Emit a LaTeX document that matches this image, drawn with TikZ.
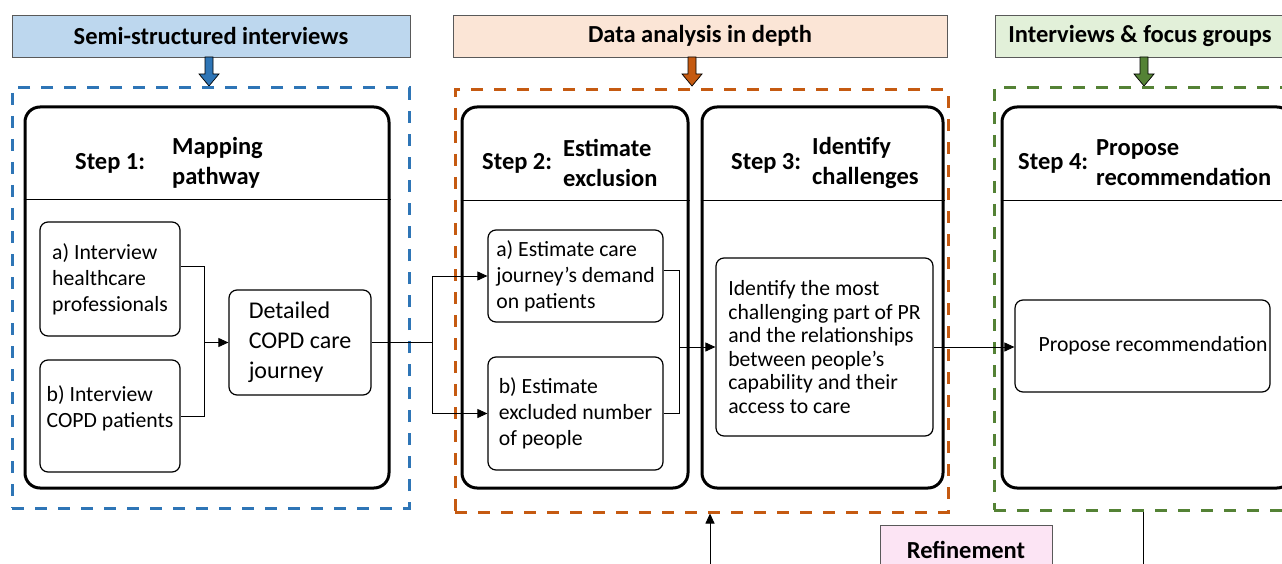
\documentclass[tikz,border=0pt]{standalone}
\usepackage{fontspec}
\setmainfont{Carlito}
\usetikzlibrary{arrows.meta}
\definecolor{blu}{RGB}{46,117,182}
\definecolor{bluhdr}{RGB}{189,215,238}
\definecolor{org}{RGB}{197,90,17}
\definecolor{orghdr}{RGB}{251,229,214}
\definecolor{grn}{RGB}{84,130,53}
\definecolor{grnhdr}{RGB}{226,240,217}
\definecolor{pnk}{RGB}{252,228,244}
\tikzset{hdr/.style={draw=black!65, line width=0.8pt, minimum height=42pt, font=\bfseries\fontsize{24.5}{30}\selectfont},
         frm/.style={line width=3pt, dash pattern=on 12pt off 11pt},
         stp/.style={draw, line width=3pt, rounded corners=15pt},
         box/.style={draw, line width=1.2pt, rounded corners=8pt, align=left, inner sep=0pt, font=\fontsize{21.7}{26}\selectfont},
         ttl/.style={anchor=west, align=left, inner sep=0pt, font=\bfseries\fontsize{24.5}{30}\selectfont},
         lnk/.style={line width=0.9pt, -{Triangle[length=10pt,width=9pt]}}}

\begin{document}
\begin{tikzpicture}[x=1pt,y=-1pt]
   \fill[white] (0,0) rectangle (1282,564);
   \useasboundingbox (0,0) rectangle (1282,564);
   % headers
   \node[hdr, fill=bluhdr, minimum width=398pt] (h1) at ( 211,36) {Semi-structured interviews};
   \node[hdr, fill=orghdr, minimum width=494pt] (h2) at ( 700,36) {Data analysis in depth};
   \node[hdr, fill=grnhdr, minimum width=290pt] (h3) at (1140,36) {Interviews \& focus groups};
   \foreach \x/\c in {209/blu,692/org,1144/grn}
     \draw[fill=\c, line width=0.7pt] (\x-4,57) -- (\x+4,57) -- (\x+4,74) -- (\x+10,74) -- (\x,86)
                                       -- (\x-10,74) -- (\x-4,74) -- cycle;
   % dashed frames
   \node[frm, draw=blu, minimum width=397pt, minimum height=420pt] (f1) at ( 210.5,298) {};
   \node[frm, draw=org, minimum width=493pt, minimum height=422pt] (f2) at ( 701.5,301) {};
   \node[frm, draw=grn, minimum width=306pt, minimum height=422pt] (f3) at (1147  ,299) {};
   % steps
   \node[stp, minimum width=364pt, minimum height=381pt] (s1) at ( 207  ,297.5) {};
   \node[stp, minimum width=226pt, minimum height=381pt] (s2) at ( 575  ,297.5) {};
   \node[stp, minimum width=241pt, minimum height=381pt] (s3) at ( 822.5,297.5) {};
   \node[stp, minimum width=290pt, minimum height=381pt] (s4) at (1147  ,297.5) {};
   \draw[line width=0.9pt] (s1.west |- 0,199) -- (s1.east |- 0,199);
   \draw[line width=0.9pt] (s2.west |- 0,200) -- (s2.east |- 0,200);
   \draw[line width=0.9pt] (s3.west |- 0,200) -- (s3.east |- 0,200);
   \draw[line width=0.9pt] (s4.west |- 0,200) -- (s4.east |- 0,200);
   \node[ttl] (t1) at (  75,163) {Step 1:};
   \node[ttl] (n1) at ( 172,163) {Mapping\\pathway};
   \node[ttl] (t2) at ( 482,163) {Step 2:};
   \node[ttl] (n2) at ( 563,163) {Estimate\\exclusion};
   \node[ttl] (t3) at ( 731,163) {Step 3:};
   \node[ttl] (n3) at ( 812,163) {Identify\\challenges};
   \node[ttl] (t4) at (1018,163) {Step 4:};
   \node[ttl] (n4) at (1096,163) {Propose\\recommendation};
   % inner boxes
   \node[box, minimum width=140pt, minimum height=114pt] (a1) at ( 110  ,279) {a) Interview\\healthcare\\professionals};
   \node[box, minimum width=140pt, minimum height=112pt] (b1) at ( 110  ,416) {b) Interview\\COPD patients\\[-8pt]\mbox{}};
   \node[box, minimum width=142pt, minimum height=105pt, font=\fontsize{24}{30}\selectfont]
        (d1) at ( 300  ,342.5) {Detailed\\COPD care\\journey};
   \node[box, minimum width=175pt, minimum height= 92pt] (a2) at ( 575.5,276) {a) Estimate care\\journey’s demand\\on patients};
   \node[box, minimum width=175pt, minimum height=113pt] (b2) at ( 575.5,413.5) {b) Estimate\\excluded number\\of people};
   \node[box, minimum width=217pt, minimum height=178pt, font=\fontsize{21.7}{23.6}\selectfont]
        (c3) at ( 824.5,347) {Identify the most\\challenging part of PR\\and the relationships\\between people’s\\capability and their\\access to care};
   \node[box, minimum width=255pt, minimum height= 92pt] (d4) at (1142.5,346) {\hspace*{21pt}Propose recommendation};
   \node[hdr, fill=pnk, minimum width=172pt, minimum height=50pt] (r) at (966,550) {Refinement};
   % links
   \coordinate (j1) at ([xshift=-24pt]d1.west);
   \coordinate (j2) at (432,342.5);
   \coordinate (j3) at ([xshift=-36pt]c3.west);
   \draw[line width=0.9pt] ([yshift=13pt]a1.east) -| (j1) |- (b1.east);
   \draw[lnk] (j1) -- (d1);
   \draw[line width=0.9pt] (d1.east) -- (j2);
   \draw[lnk] (j2) |- (a2);
   \draw[lnk] (j2) |- (b2);
   \draw[line width=0.9pt] ([yshift=6pt]a2.east) -| (j3) |- (b2.east);
   \draw[lnk] (j3) -- (c3);
   \draw[lnk] (c3.east) -- (c3.east -| d4.west);
   \coordinate (e1) at (1143,600);
   \coordinate (e2) at ( 710,600);
   \draw[line width=0.9pt] (e1) -- (e1 |- f3.south);
   \draw[lnk] (e2) -- (e2 |- f2.south);
\end{tikzpicture}
\end{document}
